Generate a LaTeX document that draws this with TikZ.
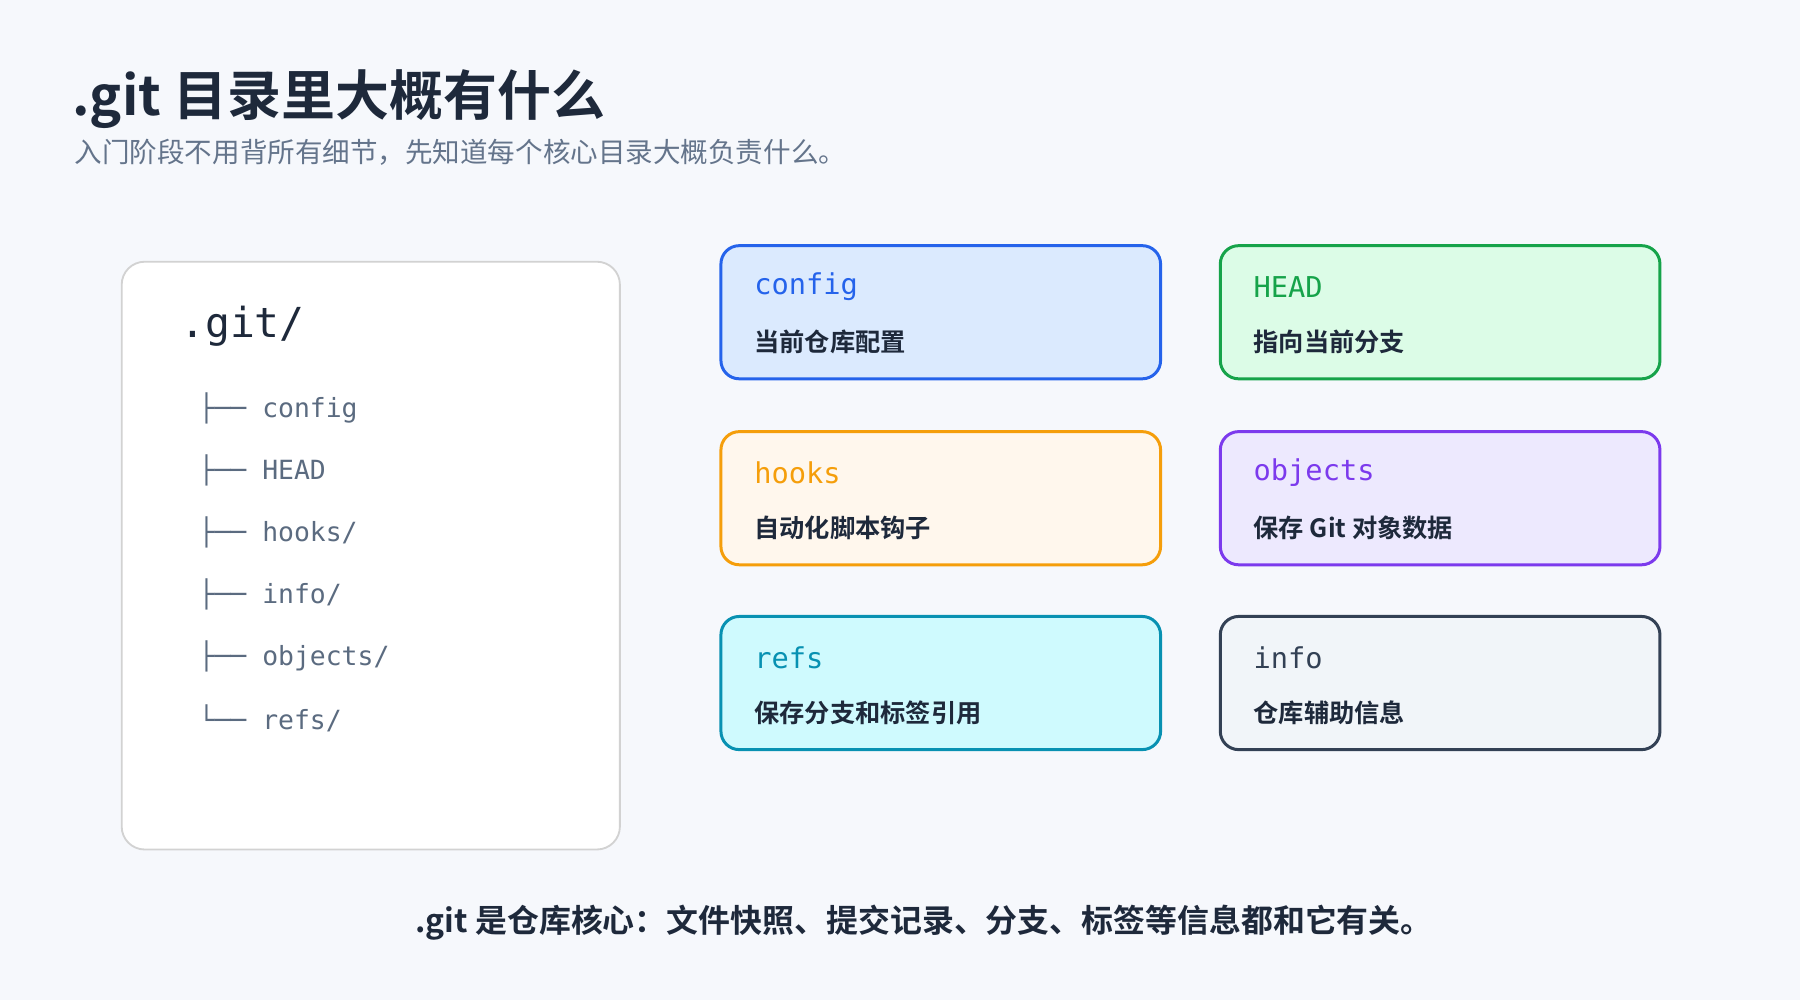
\documentclass[tikz,border=0pt]{standalone}
\usepackage{fontspec}
\setmainfont{Noto Sans CJK SC}
\newfontfamily\cjk{Noto Sans CJK SC}
\newfontfamily\cjkb{Noto Sans CJK SC Bold}
\setmonofont{DejaVu Sans Mono}
\definecolor{bg}{HTML}{F6F8FC}
\definecolor{ink}{HTML}{1E293B}
\definecolor{sub}{HTML}{64748B}
\definecolor{tree}{HTML}{5B6B80}
\begin{document}
\begin{tikzpicture}[x=0.5pt,y=-0.5pt,
 card/.style={draw=#1,line width=1.3pt,rounded corners=8pt},
 key/.style={anchor=west,font=\ttfamily\fontsize{12.5}{14}\selectfont},
 desc/.style={anchor=west,font=\cjkb\fontsize{11}{12}\selectfont,text=ink},
 tr/.style={anchor=west,font=\ttfamily\fontsize{11.5}{13}\selectfont,text=tree}]
\path[fill=bg] (0,0) rectangle (1568,871);
\useasboundingbox (0,0) rectangle (1568,871);
\node[anchor=west,font=\cjkb\fontsize{23.5}{28}\selectfont,text=ink] (t) at (56,86) {.git 目录里大概有什么};
\node[anchor=west,font=\cjk\fontsize{12}{14}\selectfont,text=sub] (s) at (58,133) {入门阶段不用背所有细节，先知道每个核心目录大概负责什么。};
\draw[fill=white,draw=gray!35,line width=0.8pt,rounded corners=10pt] (106,228) rectangle (540,740);
\node[anchor=west,font=\ttfamily\fontsize{18}{20}\selectfont,text=ink] (g) at (150,284) {.git/};
\foreach \y/\t/\c in {356/{config}/├──,410/{HEAD}/├──,464/{hooks/}/├──,518/{info/}/├──,572/{objects/}/├──,626/{refs/}/└──}
  \node[tr] at (166,\y) {\c\ \t};
\foreach \x/\y/\c/\f/\k/\d in {
 628/214/2563EB/DBEAFE/config/当前仓库配置,
 1063/214/16A34A/DCFCE7/HEAD/指向当前分支,
 628/376/F59E0B/FFF7ED/hooks/自动化脚本钩子,
 1063/376/7C3AED/EDE9FE/objects/保存 Git 对象数据,
 628/537/0891B2/CFFAFE/refs/保存分支和标签引用,
 1063/537/334155/F1F5F9/info/仓库辅助信息}{
 \definecolor{bc}{HTML}{\c}\definecolor{fc}{HTML}{\f}
 \draw[card=bc,fill=fc] (\x,\y) rectangle +(383,116);
 \node[key,text=bc] at (\x+22,\y+36) {\k};
 \node[desc] at (\x+22,\y+84) {\d};
}
\node[font=\cjkb\fontsize{13.9}{15}\selectfont,text=ink] (b) at (805,804) {.git 是仓库核心：文件快照、提交记录、分支、标签等信息都和它有关。};
\end{tikzpicture}
\end{document}
